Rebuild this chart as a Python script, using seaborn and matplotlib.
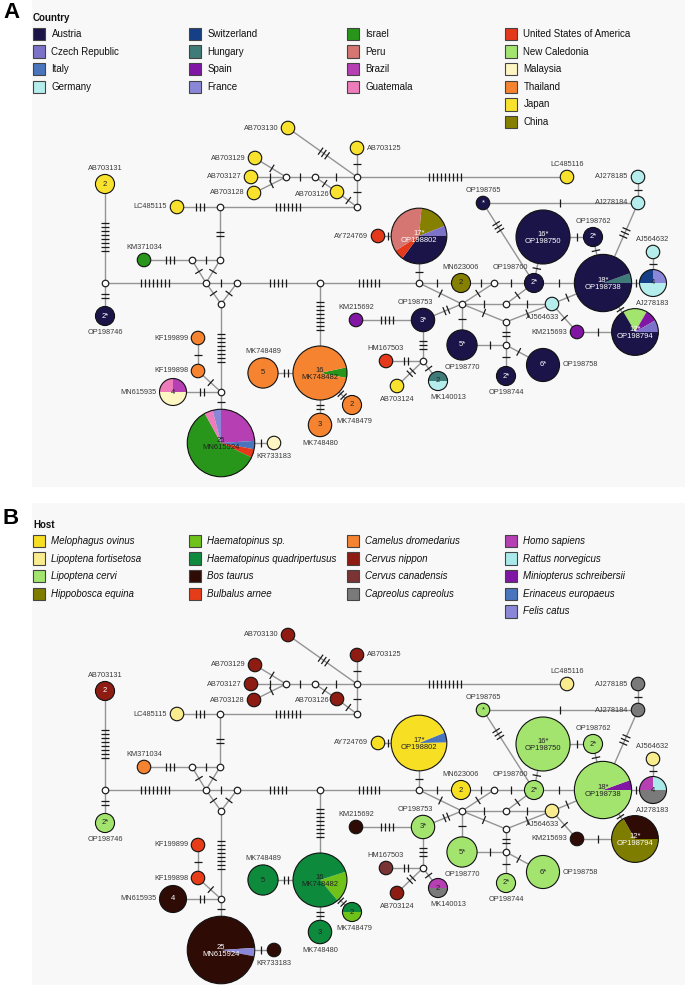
import matplotlib
matplotlib.use('Agg')
import numpy as np
import pandas as pd
import matplotlib.pyplot as plt
from matplotlib.patches import Wedge, Circle, Rectangle
from matplotlib.collections import LineCollection
from matplotlib.colors import to_rgb
import seaborn as sns

sns.set_theme(style='white')
plt.rcParams['font.family'] = ['Liberation Sans', 'DejaVu Sans']

# ---------------- categories ----------------
countries = ['Austria', 'Czech Republic', 'Italy', 'Germany',
             'Switzerland', 'Hungary', 'Spain', 'France',
             'Israel', 'Peru', 'Brazil', 'Guatemala',
             'United States of America', 'New Caledonia', 'Malaysia', 'Thailand', 'Japan', 'China']
country_colors = ['#1b1449', '#7d72c9', '#4a74bc', '#b5ecec',
                  '#153f86', '#3f7b79', '#8016a3', '#8a87d8',
                  '#27961a', '#d67672', '#b53fb3', '#ee7cbb',
                  '#e4391a', '#a3e46f', '#fdf5c2', '#f5832f', '#f8e22d', '#858000']
country_cols = [4, 4, 4, 6]

hosts = ['Melophagus ovinus', 'Lipoptena fortisetosa', 'Lipoptena cervi', 'Hippobosca equina',
         'Haematopinus sp.', 'Haematopinus quadripertusus', 'Bos taurus', 'Bulbalus arnee',
         'Camelus dromedarius', 'Cervus nippon', 'Cervus canadensis', 'Capreolus capreolus',
         'Homo sapiens', 'Rattus norvegicus', 'Miniopterus schreibersii', 'Erinaceus europaeus', 'Felis catus']
host_colors = ['#f7df24', '#f9ec8e', '#a3e46f', '#7f7d00',
               '#6fc21a', '#0d8a3c', '#2f0b06', '#e63d18',
               '#f5832f', '#8e1c12', '#7b3434', '#7a7a7a',
               '#b53fb3', '#a9e9e9', '#8016a3', '#4a74bc', '#8a87d8']
host_cols = [4, 4, 4, 5]

# ---------------- haplotype data ----------------
haplotypes = ['AB703130', 'AB703129', 'AB703127', 'AB703128', 'AB703126', 'AB703125', 'AB703131',
              'LC485116', 'LC485115', 'KM371034', 'OP198746', 'KF199899', 'KF199898', 'MN615935',
              'MN615924', 'KR733183', 'MK748489', 'MK748482', 'MK748480', 'MK748479', 'AY724769',
              'OP198802', 'MN623006', 'OP198760', 'OP198765', 'OP198750', 'OP198762', 'OP198738',
              'AJ278183', 'AJ564632', 'AJ278185', 'AJ278184', 'AJ564633', 'KM215693', 'OP198794',
              'KM215692', 'OP198753', 'HM167503', 'AB703124', 'MK140013', 'OP198770', 'OP198744',
              'OP198758']
counts = [1, 1, 1, 1, 1, 1, 2,
          1, 1, 1, 2, 1, 1, 4,
          25, 1, 5, 16, 3, 2, 1,
          17, 2, 2, 1, 16, 2, 18,
          4, 1, 1, 1, 1, 1, 12,
          1, 3, 1, 1, 2, 5, 2,
          6]
starred = ['OP198746', 'OP198802', 'OP198760', 'OP198765', 'OP198750', 'OP198762', 'OP198738',
           'OP198794', 'OP198753', 'OP198770', 'OP198744', 'OP198758']

country_parts = [
    'Japan', 'Japan', 'Japan', 'Japan', 'Japan', 'Japan', 'Japan',
    'Japan', 'Japan', 'Israel', 'Austria', 'Thailand', 'Thailand',
    [('Brazil', 1), ('Malaysia', 2), ('Guatemala', 1)],
    [('Brazil', 6), ('Italy', 1), ('United States of America', 1), ('Israel', 15), ('Guatemala', 1), ('France', 1)],
    'Malaysia', 'Thailand',
    [('Israel', 1), ('Thailand', 15)],
    'Thailand', 'Thailand', 'United States of America',
    [('China', 3), ('Czech Republic', 1), ('Austria', 6), ('United States of America', 1), ('Peru', 6)],
    'China', 'Austria', 'Austria', 'Austria', 'Austria',
    [('Hungary', 1), ('Austria', 17)],
    [('France', 1), ('Germany', 2), ('Switzerland', 1)],
    'Germany', 'Germany', 'Germany', 'Germany', 'Spain',
    [('New Caledonia', 2), ('Spain', 1), ('Czech Republic', 1), ('Austria', 8)],
    'Spain', 'Austria', 'United States of America', 'Japan',
    [('Hungary', 1), ('Germany', 1)],
    'Austria', 'Austria', 'Austria']

host_parts = [
    'Cervus nippon', 'Cervus nippon', 'Cervus nippon', 'Cervus nippon', 'Cervus nippon', 'Cervus nippon', 'Cervus nippon',
    'Lipoptena fortisetosa', 'Lipoptena fortisetosa', 'Camelus dromedarius', 'Lipoptena cervi',
    'Bulbalus arnee', 'Bulbalus arnee', 'Bos taurus',
    [('Bos taurus', 6), ('Felis catus', 1), ('Bos taurus', 18)],
    'Bos taurus', 'Haematopinus quadripertusus',
    [('Haematopinus sp.', 3), ('Haematopinus quadripertusus', 13)],
    'Haematopinus quadripertusus',
    [('Haematopinus quadripertusus', 1), ('Haematopinus sp.', 1)],
    'Melophagus ovinus',
    [('Erinaceus europaeus', 1), ('Melophagus ovinus', 16)],
    'Melophagus ovinus', 'Lipoptena cervi', 'Lipoptena cervi', 'Lipoptena cervi', 'Lipoptena cervi',
    [('Miniopterus schreibersii', 1), ('Lipoptena cervi', 17)],
    [('Rattus norvegicus', 1), ('Capreolus capreolus', 2), ('Homo sapiens', 1)],
    'Lipoptena fortisetosa', 'Capreolus capreolus', 'Capreolus capreolus', 'Lipoptena fortisetosa',
    'Bos taurus',
    [('Bos taurus', 4), ('Hippobosca equina', 8)],
    'Bos taurus', 'Lipoptena cervi', 'Cervus canadensis', 'Cervus nippon',
    [('Homo sapiens', 1), ('Capreolus capreolus', 1)],
    'Lipoptena cervi', 'Lipoptena cervi', 'Lipoptena cervi']

# network edges and number of mutation steps
edge_from = ['AB703130', 'AB703129', 'AB703127', 'AB703128', 'j1', 'j2', 'j2', 'AB703126', 'h1', 'h1',
             'h1', 'LC485115', 'j3', 'j3', 'KM371034', 'j5', 'j5', 'j4', 'j7', 'j6',
             'j8', 'j6', 'j8', 'j7', 'j7', 'j9', 'j9', 'j10', 'KF199899', 'KF199898',
             'MN615935', 'j19', 'MN615924', 'MK748489', 'MK748482', 'MK748482', 'j12', 'AY724769', 'j12', 'MN623006',
             'j13', 'OP198760', 'OP198738', 'AJ278183', 'OP198738', 'OP198762', 'OP198750', 'OP198765', 'OP198765', 'AJ278184',
             'AJ278184', 'j12', 'j13', 'j14', 'j15', 'j15', 'j14', 'j18', 'AJ564633', 'AJ564633',
             'KM215693', 'OP198794', 'j14', 'KM215692', 'OP198753', 'HM167503', 'AB703124', 'MK140013', 'j14', 'OP198770',
             'j18', 'j17', 'j17']
edge_to = ['h1', 'j1', 'j1', 'j1', 'j2', 'h1', 'AB703126', 'h2', 'h2', 'AB703125',
           'LC485116', 'j3', 'h2', 'j4', 'j5', 'j4', 'j6', 'j6', 'j6', 'j8',
           'j9', 'j10', 'j10', 'AB703131', 'OP198746', 'MK748482', 'j12', 'j19', 'KF199898', 'j19',
           'j19', 'MN615924', 'KR733183', 'MK748482', 'MK748480', 'MK748479', 'OP198802', 'OP198802', 'MN623006', 'j13',
           'OP198760', 'OP198738', 'AJ278183', 'AJ564632', 'OP198762', 'OP198750', 'OP198760', 'OP198760', 'AJ278184', 'AJ278185',
           'OP198738', 'j14', 'j14', 'j15', 'AJ564633', 'OP198760', 'j18', 'AJ564633', 'OP198738', 'KM215693',
           'OP198794', 'OP198738', 'OP198753', 'OP198753', 'j16', 'j16', 'j16', 'j16', 'OP198770', 'j17',
           'j17', 'OP198744', 'OP198758']
mutations = [3, 1, 1, 1, 1, 1, 1, 1, 1, 1,
             9, 3, 7, 2, 3, 1, 1, 1, 8, 1,
             5, 1, 1, 8, 2, 8, 6, 8, 1, 1,
             2, 1, 1, 2, 2, 2, 1, 1, 1, 1,
             1, 1, 1, 1, 1, 1, 1, 3, 1, 1,
             3, 1, 1, 1, 1, 1, 1, 1, 1, 1,
             1, 1, 2, 4, 3, 2, 2, 1, 1, 1,
             2, 1, 1]

# ---------------- layout (pixel positions of panel A) ----------------
node_xy = {
    'AB703130': (288, 128), 'AB703129': (255, 158), 'AB703127': (251, 177), 'AB703128': (254, 193),
    'AB703126': (337, 192), 'AB703125': (357, 148), 'AB703131': (105, 184), 'LC485116': (567, 177),
    'LC485115': (177, 207), 'KM371034': (144, 260), 'OP198746': (105, 316), 'KF199899': (198, 338),
    'KF199898': (198, 371), 'MN615935': (173, 392), 'MN615924': (221, 443), 'KR733183': (274, 443),
    'MK748489': (263, 373), 'MK748482': (320, 373), 'MK748480': (320, 425), 'MK748479': (352, 405),
    'AY724769': (378, 236), 'OP198802': (419, 236), 'MN623006': (461, 283), 'OP198760': (534, 283),
    'OP198765': (483, 203), 'OP198750': (543, 237), 'OP198762': (593, 237), 'OP198738': (603, 283),
    'AJ278183': (653, 283), 'AJ564632': (653, 252), 'AJ278185': (638, 177), 'AJ278184': (638, 203),
    'AJ564633': (552, 304), 'KM215693': (577, 332), 'OP198794': (635, 332), 'KM215692': (356, 320),
    'OP198753': (423, 320), 'HM167503': (386, 361), 'AB703124': (397, 386), 'MK140013': (438, 381),
    'OP198770': (462, 345), 'OP198744': (506, 376), 'OP198758': (543, 365),
    'j1': (286, 177), 'j2': (315, 177), 'h1': (357, 177), 'h2': (357, 207), 'j3': (220, 207),
    'j4': (220, 260), 'j5': (192, 260), 'j6': (206, 283), 'j7': (105, 283), 'j8': (237, 283),
    'j9': (320, 283), 'j10': (221, 304), 'j19': (221, 392), 'j12': (419, 283), 'j13': (494, 283),
    'j14': (462, 304), 'j15': (506, 304), 'j18': (506, 322), 'j17': (506, 345), 'j16': (423, 361)}

label_side = {
    'AB703130': ('L', 0, 0), 'AB703129': ('L', 0, 0), 'AB703127': ('L', 0, 0), 'AB703128': ('L', 0, 0),
    'AB703126': ('L', 2, 2), 'AB703125': ('R', 0, 0), 'AB703131': ('T', 0, 0), 'LC485116': ('T', 0, 0),
    'LC485115': ('L', 0, 0), 'KM371034': ('T', 0, 0), 'OP198746': ('B', 0, 0), 'KF199899': ('L', 0, 0),
    'KF199898': ('L', 0, 0), 'MN615935': ('L', 0, 0), 'KR733183': ('B', 0, 0), 'MK748489': ('T', 0, 0),
    'MK748480': ('B', 0, 0), 'MK748479': ('B', 2, 0), 'AY724769': ('L', 0, 0), 'MN623006': ('T', 0, 0),
    'OP198760': ('T', -24, 0), 'OP198765': ('T', 0, 0), 'OP198762': ('T', 0, 0), 'AJ278183': ('B', 0, 0),
    'AJ564632': ('T', 0, 0), 'AJ278185': ('L', 0, 0), 'AJ278184': ('L', 0, 0), 'AJ564633': ('B', -9, 0),
    'KM215693': ('L', 0, 0), 'KM215692': ('T', 0, 0), 'OP198753': ('T', -8, 0), 'HM167503': ('T', 0, 0),
    'AB703124': ('B', 0, 0), 'MK140013': ('B', 10, 0), 'OP198770': ('B', 0, 0), 'OP198744': ('B', 0, 0),
    'OP198758': ('R', 0, 0)}
inside_named = ['MN615924', 'MK748482', 'OP198802', 'OP198750', 'OP198738', 'OP198794']

start_country = {'MK748482': 78, 'OP198802': 5, 'OP198738': 70, 'OP198794': -30, 'MK140013': -90}
start_host = {'MK748482': 72, 'OP198802': 68, 'OP198738': 70, 'OP198794': -30, 'MK140013': -90,
              'MK748479': -90}
tick_frac = {('OP198765', 'OP198760'): 0.3, ('h1', 'LC485116'): 0.42}

R_UNIT = 6.75
JUNC_R = 3.4


def radius(name):
    if name in haplotypes:
        return R_UNIT * np.sqrt(counts[haplotypes.index(name)])
    return JUNC_R


def lum(c):
    r, g, b = to_rgb(c)
    return 0.299 * r + 0.587 * g + 0.114 * b


fig = plt.figure(figsize=(6.85, 9.85), dpi=100)
ax = fig.add_axes([0, 0, 1, 1])

# faint panel backgrounds
ax.add_patch(Rectangle((32, 0), 653, 487, facecolor='#f8f8f8', edgecolor='none', zorder=0))
ax.add_patch(Rectangle((32, 503), 653, 482, facecolor='#f8f8f8', edgecolor='none', zorder=0))


def draw_legend(letter, title, cats, cols, colors, y0, italic):
    ax.text(3, y0 - 6, letter, fontsize=16, fontweight='bold', ha='left', va='center', color='black')
    ax.text(33, y0, title, fontsize=7, fontweight='bold', ha='left', va='center', color='#111')
    col_x = [33, 189, 347, 505]
    k = 0
    for ci, ncat in enumerate(cols):
        for ri in range(ncat):
            x = col_x[ci]
            y = y0 + 16 + 17.6 * ri
            ax.add_patch(Rectangle((x, y - 6.25), 12.5, 12.5, facecolor=colors[k], edgecolor='#444',
                                   lw=0.8, zorder=2))
            ax.text(x + 18.5, y, cats[k], fontsize=7.0, ha='left', va='center', color='#111',
                    style='italic' if italic else 'normal')
            k += 1


def draw_network(yoff, parts_list, cats, colors, starts):
    pal = dict(zip(cats, colors))
    xy = {k: (v[0], v[1] + yoff) for k, v in node_xy.items()}
    # edges via seaborn
    rows = []
    for i, (a, b) in enumerate(zip(edge_from, edge_to)):
        rows.append({'edge': i, 'x': xy[a][0], 'y': xy[a][1]})
        rows.append({'edge': i, 'x': xy[b][0], 'y': xy[b][1]})
    edf = pd.DataFrame(rows)
    sns.lineplot(data=edf, x='x', y='y', units='edge', estimator=None, sort=False,
                 color='#949494', lw=1.0, ax=ax, legend=False, zorder=1)
    # mutation ticks
    segs = []
    for a, b, m in zip(edge_from, edge_to, mutations):
        p = np.array(xy[a], float)
        q = np.array(xy[b], float)
        d = q - p
        L = np.hypot(*d)
        u = d / L
        nrm = np.array([-u[1], u[0]])
        if (a, b) in tick_frac:
            c = p + d * tick_frac[(a, b)]
        else:
            s = p + u * radius(a)
            e = q - u * radius(b)
            c = (s + e) / 2
        for t in range(m):
            off = (t - (m - 1) / 2) * 4.0
            cc = c + u * off
            segs.append([cc - nrm * 4.3, cc + nrm * 4.3])
    ax.add_collection(LineCollection(segs, colors='#1a1a1a', linewidths=0.9, zorder=2))
    # junction (median) vectors
    jn = [k for k in node_xy if k not in haplotypes]
    jdf = pd.DataFrame({'x': [xy[k][0] for k in jn], 'y': [xy[k][1] for k in jn]})
    sns.scatterplot(data=jdf, x='x', y='y', s=22, color='white', edgecolor='#222',
                    linewidth=0.9, ax=ax, legend=False, zorder=5)
    # haplotype pies
    for name, n, parts in zip(haplotypes, counts, parts_list):
        cx, cy = xy[name]
        r = R_UNIT * np.sqrt(n)
        if isinstance(parts, str):
            parts = [(parts, n)]
        tot = sum(v for _, v in parts)
        ang = starts.get(name, 0)
        for cat, v in parts:
            span = 360.0 * v / tot
            ax.add_patch(Wedge((cx, cy), r, -90 + ang, -90 + ang + span,
                               facecolor=pal[cat], edgecolor='none', zorder=3))
            ang += span
        ax.add_patch(Circle((cx, cy), r, fill=False, edgecolor='#111', lw=0.8, zorder=4))
        agg = {}
        for cat, v in parts:
            agg[cat] = agg.get(cat, 0) + v
        major = max(agg, key=agg.get)
        dark = lum(pal[major]) < 0.3 or any(lum(pal[c]) < 0.15 for c in agg)
        tcol = 'white' if dark else '#222'
        star = '*' if name in starred else ''
        inner = ('' if n == 1 else str(n)) + star
        if name in inside_named:
            ax.text(cx, cy + 1, inner + '\n' + name, fontsize=5.5, ha='center', va='center',
                    color=tcol, linespacing=1.05, zorder=6)
        else:
            if inner:
                ax.text(cx, cy, inner, fontsize=5.5, ha='center', va='center', color=tcol, zorder=6)
            side, dx, dy = label_side[name]
            kw = dict(fontsize=5.3, va='center', color='#3a3a3a')
            if side == 'L':
                ax.text(cx - r - 3 + dx, cy + dy, name, ha='right', **kw)
            elif side == 'R':
                ax.text(cx + r + 3 + dx, cy + dy, name, ha='left', **kw)
            elif side == 'T':
                ax.text(cx + dx, cy - r - 6 + dy, name, ha='center', **kw)
            else:
                ax.text(cx + dx, cy + r + 7 + dy, name, ha='center', **kw)


draw_legend('A', 'Country', countries, country_cols, country_colors, 18, False)
draw_network(0, country_parts, countries, country_colors, start_country)

draw_legend('B', 'Host', hosts, host_cols, host_colors, 525, True)
draw_network(507, host_parts, hosts, host_colors, start_host)

ax.set_xlim(0, 685)
ax.set_ylim(985, 0)
ax.set_xlabel('')
ax.set_ylabel('')
ax.axis('off')
fig.savefig('out.png', dpi=100, facecolor='white')
